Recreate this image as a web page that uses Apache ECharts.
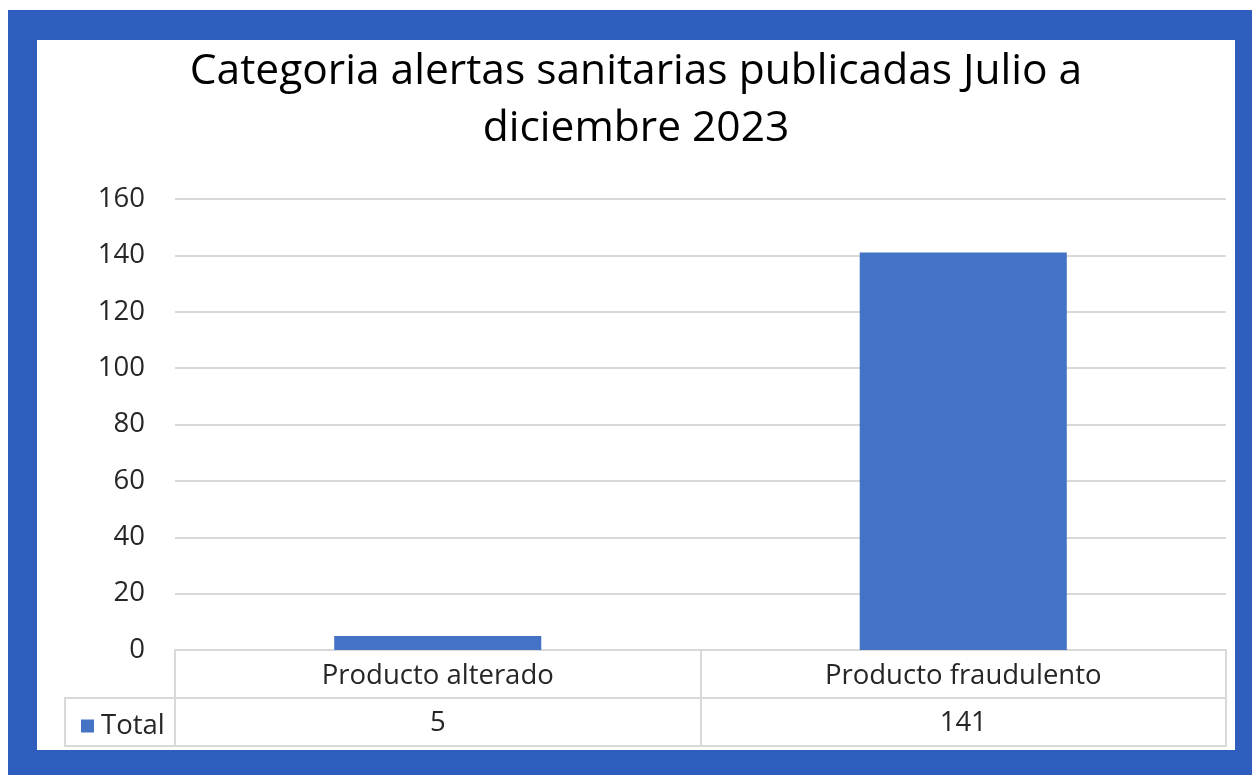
<!DOCTYPE html>
<html>
<head>
<meta charset="utf-8">
<script src="https://cdn.jsdelivr.net/npm/echarts@6/dist/echarts.min.js"></script>
<style>
  html, body { margin: 0; padding: 0; background: #ffffff; }
  #frame {
    position: absolute; left: 8px; top: 10px; width: 1244px; height: 765px;
    box-sizing: border-box; background: #ffffff;
    border-style: solid; border-color: #2f5dbe;
    border-width: 30px 17px 25px 29px;
  }
  #chart { position: absolute; left: 37px; top: 0; width: 1198px; height: 775px; }
</style>
</head>
<body>
<div id="frame"></div>
<div id="chart"></div>
<script>
// Chart data
const titleLines = ['Categoria alertas sanitarias publicadas Julio a', 'diciembre 2023'];
const categories = ['Producto alterado', 'Producto fraudulento'];
const seriesName = 'Total';
const totals = [5, 141];
const yTicks = [0, 20, 40, 60, 80, 100, 120, 140, 160];

const FONT = 'Open Sans';
const TEXT = '#262626';
const LINE = '#d9d9d9';
const LABEL_SIZE = 27.5;

const chart = echarts.init(document.getElementById('chart'), null, { renderer: 'canvas' });

chart.setOption({
  backgroundColor: 'transparent',
  animation: false,
  textStyle: { fontFamily: FONT },
  title: {
    text: titleLines.join('\n'),
    left: 'center',
    top: 38,
    textStyle: { fontFamily: FONT, fontSize: 42.5, fontWeight: 'normal', color: '#000000', lineHeight: 57 }
  },
  legend: {
    data: [seriesName],
    left: 39,
    top: 707,
    icon: 'rect',
    itemWidth: 13,
    itemHeight: 13,
    itemGap: 8,
    textStyle: { fontFamily: FONT, fontSize: LABEL_SIZE, color: TEXT, padding: [0, 0, 0, 2] },
    selectedMode: false
  },
  grid: { left: 138, right: 9, top: 199, bottom: 125, containLabel: false },
  xAxis: [
    {
      // category row of the data table
      type: 'category',
      data: categories,
      position: 'bottom',
      axisLine: { show: true, lineStyle: { color: LINE, width: 2 } },
      axisTick: { show: true, interval: 0, length: 48, lineStyle: { color: LINE, width: 2 } },
      axisLabel: { interval: 0, margin: 12, fontFamily: FONT, fontSize: LABEL_SIZE, color: TEXT }
    },
    {
      // value row of the data table
      type: 'category',
      data: categories,
      position: 'bottom',
      offset: 48,
      axisLine: { show: true, lineStyle: { color: LINE, width: 2 } },
      axisTick: { show: true, interval: 0, length: 48, lineStyle: { color: LINE, width: 2 } },
      axisLabel: {
        interval: 0, margin: 11, fontFamily: FONT, fontSize: LABEL_SIZE, color: TEXT,
        formatter: (v, i) => String(totals[i])
      }
    },
    {
      // bottom edge of the data table
      type: 'category',
      data: categories,
      position: 'bottom',
      offset: 96,
      axisLine: { show: true, lineStyle: { color: LINE, width: 2 } },
      axisTick: { show: false },
      axisLabel: { show: false }
    }
  ],
  yAxis: {
    type: 'value',
    min: yTicks[0],
    max: yTicks[yTicks.length - 1],
    interval: yTicks[1] - yTicks[0],
    axisLine: { show: false },
    axisTick: { show: false },
    axisLabel: { margin: 30, fontFamily: FONT, fontSize: LABEL_SIZE, color: TEXT },
    splitLine: { lineStyle: { color: LINE, width: 2 } }
  },
  graphic: [
    {
      // row header cell holding the legend key
      type: 'rect',
      shape: { x: 28, y: 698, width: 110, height: 48 },
      style: { fill: 'none', stroke: LINE, lineWidth: 2 },
      silent: true
    }
  ],
  series: [
    {
      name: seriesName,
      type: 'bar',
      xAxisIndex: 0,
      data: totals,
      barWidth: '39.4%',
      itemStyle: { color: '#4472c4' }
    }
  ]
});
</script>
</body>
</html>
